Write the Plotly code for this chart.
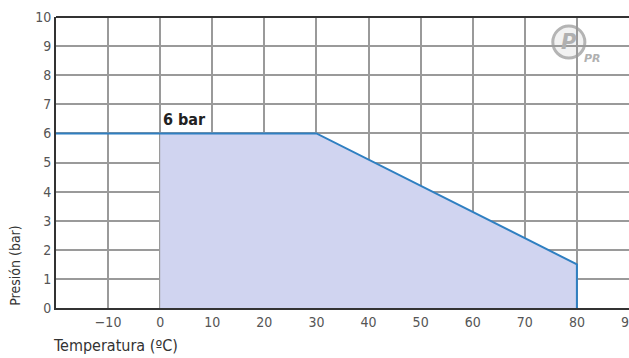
import plotly.graph_objects as go

# Data
curve_temp = [-20, 30, 80, 80]
curve_pres = [6, 6, 1.5, 0]
area_temp = [0, 0, 30, 80, 80]
area_pres = [0, 6, 6, 1.5, 0]
x_ticks = [-10, 0, 10, 20, 30, 40, 50, 60, 70, 80, 90]
y_ticks = [0, 1, 2, 3, 4, 5, 6, 7, 8, 9, 10]
label_text = "6 bar"
label_temp = 0
label_pres = 6

FONT = "DejaVu Sans Condensed, Liberation Sans Narrow, sans-serif"

fig = go.Figure()
fig.add_trace(go.Scatter(x=area_temp, y=area_pres, fill="toself", mode="none",
                         fillcolor="rgb(208,212,240)", hoverinfo="skip"))
fig.add_trace(go.Scatter(x=curve_temp, y=curve_pres, mode="lines",
                         line=dict(color="#2f7fc1", width=2), hoverinfo="skip"))

fig.add_annotation(x=label_temp, y=label_pres, text="<b>" + label_text + "</b>", showarrow=False,
                   xanchor="left", yanchor="bottom", xshift=1, yshift=2,
                   font=dict(family=FONT, size=16, color="#222"))

# axis titles
fig.add_annotation(xref="paper", yref="paper", x=-0.072, y=0.0, text="Presión (bar)",
                   textangle=-90, showarrow=False, xanchor="center", yanchor="bottom",
                   font=dict(family=FONT, size=14, color="#333"))
fig.add_annotation(xref="paper", yref="paper", x=-0.008, y=-0.168, text="Temperatura (ºC)",
                   showarrow=False, xanchor="left", yanchor="bottom",
                   font=dict(family=FONT, size=16, color="#333"))

# logo
fig.add_shape(type="circle", xref="paper", yref="paper", x0=0.867, x1=0.923, y0=0.859, y1=0.969,
              line=dict(color="#b4b4b4", width=3), fillcolor="rgba(240,240,240,0.85)", layer="below")
fig.add_annotation(xref="paper", yref="paper", x=0.895, y=0.914, text="<b><i>P</i></b>", showarrow=False,
                   xanchor="center", yanchor="middle",
                   font=dict(family="DejaVu Sans, sans-serif", size=21, color="#b0b0b0"))
fig.add_annotation(xref="paper", yref="paper", x=0.955, y=0.887, text="<b><i>PR</i></b>", showarrow=False,
                   font=dict(family="DejaVu Sans, sans-serif", size=11, color="#b0b0b0"))

fig.update_layout(
    width=629, height=358,
    margin=dict(l=56, r=0, t=17, b=50, autoexpand=False),
    paper_bgcolor="white", plot_bgcolor="white",
    showlegend=False,
    xaxis=dict(range=[-20, 90], tickvals=x_ticks, showgrid=True, gridcolor="#9a9a9a", gridwidth=1.5,
               showline=True, linecolor="#333", linewidth=2, mirror=False, zeroline=False,
               automargin=False, ticklabeloverflow="allow",
               tickfont=dict(family=FONT, size=14, color="#555"), ticks="", fixedrange=True),
    yaxis=dict(range=[0, 10], tickvals=y_ticks, showgrid=True, gridcolor="#9a9a9a", gridwidth=1.5,
               showline=True, linecolor="#333", linewidth=2, zeroline=False,
               automargin=False, ticklabeloverflow="allow",
               tickfont=dict(family=FONT, size=14, color="#555"), ticks="", fixedrange=True),
)
fig.add_shape(type="line", xref="paper", yref="paper", x0=0, x1=1, y0=1, y1=1,
              line=dict(color="#333", width=2))

fig.write_html("out.html", config={"displayModeBar": False},
               post_script="document.body.style.margin='0';document.body.style.overflow='hidden';")
